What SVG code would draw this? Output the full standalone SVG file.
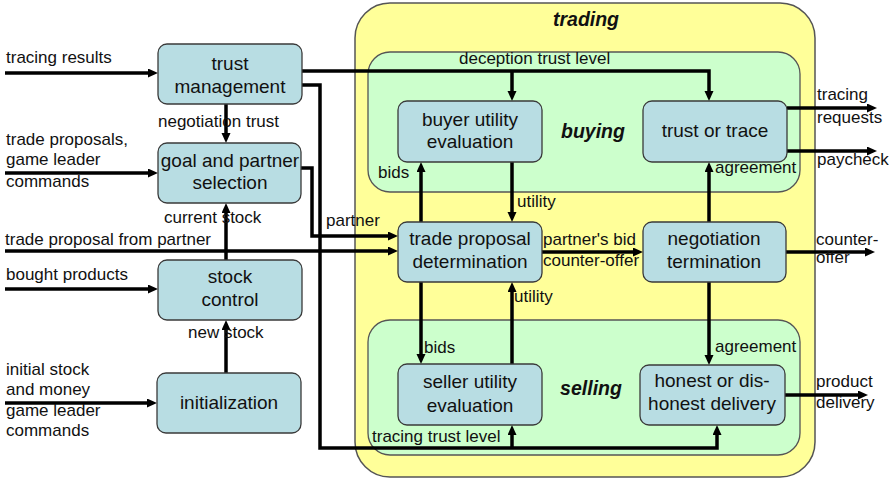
<svg xmlns="http://www.w3.org/2000/svg" width="889" height="480" viewBox="0 0 889 480">
<defs>
<marker id="ah" markerUnits="userSpaceOnUse" markerWidth="10" markerHeight="10" refX="4" refY="4.5" orient="auto">
<path d="M0,0 L10,4.5 L0,9 z" fill="#000"/>
</marker>
<style>
.node rect{fill:#b8dde3;stroke:#3a3a3a;stroke-width:1.3}
.nt{font-family:"Liberation Sans",Arial,sans-serif;font-size:19px;fill:#111;text-anchor:middle}
.lb{font-family:"Liberation Sans",Arial,sans-serif;font-size:17px;fill:#111}
.ttl{font-family:"Liberation Sans",Arial,sans-serif;font-size:19.5px;font-weight:bold;font-style:italic;fill:#111;text-anchor:middle}
.c path{fill:none;stroke:#000;stroke-width:3.5}
.c path.a{marker-end:url(#ah)}
</style>
</defs>
<rect width="889" height="480" fill="#fff"/>
<g id="trading">
<rect x="355" y="3" width="460" height="474" rx="35" fill="#ffff99" stroke="#555" stroke-width="1.5"/>
<text class="ttl" x="586" y="26">trading</text>
</g>
<g id="buying">
<rect x="368" y="52" width="432" height="140" rx="22" fill="#ccffcc" stroke="#555" stroke-width="1.3"/>
<text class="ttl" x="593" y="138">buying</text>
</g>
<g id="selling">
<rect x="368" y="320" width="432" height="135" rx="22" fill="#ccffcc" stroke="#555" stroke-width="1.3"/>
<text class="ttl" x="591" y="395">selling</text>
</g>
<g class="c" id="connectors">
<path class="a" d="M5,73 H152"/>
<path class="a" d="M5,173 H152"/>
<path class="a" d="M5,251 H392"/>
<path class="a" d="M5,289 H152"/>
<path class="a" d="M5,403 H151"/>
<path class="a" d="M226,104 V137"/>
<path class="a" d="M226,260 V209"/>
<path class="a" d="M226,373 V326"/>
<path class="a" d="M302,71 H709 V95"/>
<path class="a" d="M512,71 V95"/>
<path class="a" d="M302,85 H320 V448 H717 V431"/>
<path class="a" d="M512,448 V431"/>
<path class="a" d="M301,168 H312 V236 H392"/>
<path class="a" d="M421,222 V168"/>
<path class="a" d="M512,162 V216"/>
<path class="a" d="M542,252 H637"/>
<path class="a" d="M709,222 V168"/>
<path class="a" d="M709,282 V359"/>
<path class="a" d="M421,282 V358"/>
<path class="a" d="M512,364 V288"/>
<path class="a" d="M787,108 H871"/>
<path class="a" d="M787,151 H871"/>
<path class="a" d="M786,252 H869"/>
<path class="a" d="M785,395 H862"/>
</g>
<g id="labels">
<text class="lb" x="6" y="63">tracing results</text>
<text class="lb" x="6" y="145">trade proposals,</text>
<text class="lb" x="6" y="165">game leader</text>
<text class="lb" x="6" y="187">commands</text>
<text class="lb" x="5" y="245">trade proposal from  partner</text>
<text class="lb" x="6" y="280">bought products</text>
<text class="lb" x="6" y="375">initial stock</text>
<text class="lb" x="6" y="395">and money</text>
<text class="lb" x="6" y="416">game leader</text>
<text class="lb" x="6" y="436">commands</text>
<text class="lb" x="158" y="127">negotiation trust</text>
<text class="lb" x="164" y="223">current stock</text>
<text class="lb" x="188" y="338">new stock</text>
<text class="lb" x="326" y="226">partner</text>
<text class="lb" x="459" y="64">deception trust level</text>
<text class="lb" x="378" y="178">bids</text>
<text class="lb" x="517" y="207">utility</text>
<text class="lb" x="543" y="245">partner's bid</text>
<text class="lb" x="543" y="266">counter-offer</text>
<text class="lb" x="715" y="173">agreement</text>
<text class="lb" x="715" y="352">agreement</text>
<text class="lb" x="424" y="353">bids</text>
<text class="lb" x="514" y="302">utility</text>
<text class="lb" x="372" y="442">tracing trust level</text>
<text class="lb" x="817" y="100">tracing</text>
<text class="lb" x="817" y="123">requests</text>
<text class="lb" x="817" y="165">paycheck</text>
<text class="lb" x="816" y="245">counter-</text>
<text class="lb" x="816" y="263">offer</text>
<text class="lb" x="816" y="387">product</text>
<text class="lb" x="816" y="408">delivery</text>
</g>
<g class="node" id="trust-management"><rect x="158" y="44" width="144" height="60" rx="9"/><text class="nt" x="230" y="70">trust</text><text class="nt" x="230" y="93">management</text></g>
<g class="node" id="goal-partner-selection"><rect x="158" y="143" width="143" height="60" rx="9"/><text class="nt" x="230" y="167">goal and partner</text><text class="nt" x="230" y="189">selection</text></g>
<g class="node" id="stock-control"><rect x="158" y="260" width="144" height="60" rx="9"/><text class="nt" x="230" y="283">stock</text><text class="nt" x="230" y="306">control</text></g>
<g class="node" id="initialization"><rect x="157" y="373" width="144" height="60" rx="9"/><text class="nt" x="229" y="409">initialization</text></g>
<g class="node" id="buyer-utility"><rect x="398" y="101" width="144" height="61" rx="9"/><text class="nt" x="470" y="126">buyer utility</text><text class="nt" x="470" y="148">evaluation</text></g>
<g class="node" id="trust-or-trace"><rect x="643" y="101" width="144" height="61" rx="9"/><text class="nt" x="715" y="137">trust or trace</text></g>
<g class="node" id="trade-proposal"><rect x="398" y="222" width="144" height="60" rx="9"/><text class="nt" x="470" y="245">trade proposal</text><text class="nt" x="470" y="268">determination</text></g>
<g class="node" id="negotiation-termination"><rect x="643" y="222" width="143" height="60" rx="9"/><text class="nt" x="714" y="245">negotiation</text><text class="nt" x="714" y="268">termination</text></g>
<g class="node" id="seller-utility"><rect x="398" y="364" width="144" height="61" rx="9"/><text class="nt" x="470" y="388">seller utility</text><text class="nt" x="470" y="412">evaluation</text></g>
<g class="node" id="honest-delivery"><rect x="640" y="365" width="145" height="60" rx="9"/><text class="nt" x="712" y="387">honest or dis-</text><text class="nt" x="712" y="410">honest delivery</text></g>
</svg>
